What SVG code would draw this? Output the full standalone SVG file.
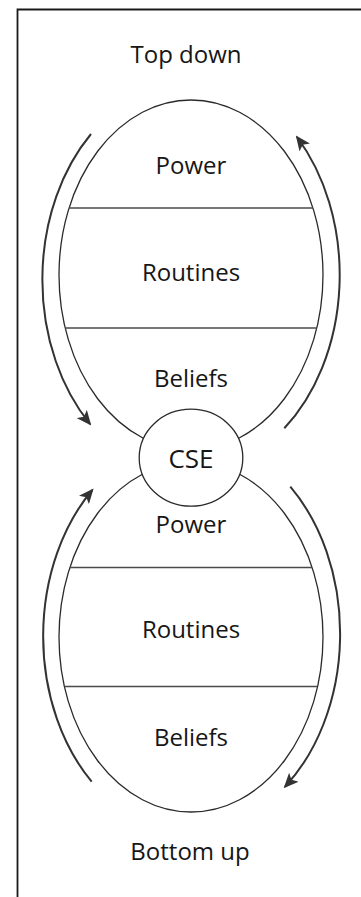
<svg xmlns="http://www.w3.org/2000/svg" width="361" height="897" viewBox="0 0 361 897">
<style>
.lbl{font-family:"Open Sans","Noto Sans","Liberation Sans",sans-serif;font-size:24px;fill:#161616;text-anchor:middle}
.big{font-size:26px}
.shape{fill:none;stroke:#2a2a2a;stroke-width:1.3}
.div{stroke:#4a4a4a;stroke-width:1.3}
.arr{fill:none;stroke:#333;stroke-width:2}
</style>
<defs>
<marker id="ah" viewBox="0 0 15 13" refX="13" refY="6.5" markerWidth="15" markerHeight="13" markerUnits="userSpaceOnUse" orient="auto">
<path d="M0,0 L15,6.5 L0,13 L3.5,6.5 Z" fill="#333"/>
</marker>
</defs>
<rect width="361" height="897" fill="#fff"/>
<g id="frame"><path d="M17.5,897 V9.5 H361" fill="none" stroke="#1a1a1a" stroke-width="1.8"/></g>
<g id="top-down"><text class="lbl" x="186" y="63">Top down</text></g>
<g id="top-ellipse">
<ellipse class="shape" cx="191" cy="275" rx="132" ry="175"/>
<line class="div" x1="69" y1="208" x2="313" y2="208"/>
<line class="div" x1="65" y1="328" x2="317" y2="328"/>
<text class="lbl" x="191" y="174">Power</text>
<text class="lbl" x="191" y="281">Routines</text>
<text class="lbl" x="191" y="387">Beliefs</text>
</g>
<g id="bottom-ellipse">
<ellipse class="shape" cx="191" cy="637" rx="132" ry="175"/>
<line class="div" x1="70" y1="567.5" x2="312" y2="567.5"/>
<line class="div" x1="64.5" y1="686.5" x2="317.5" y2="686.5"/>
<text class="lbl" x="191" y="533">Power</text>
<text class="lbl" x="191" y="638">Routines</text>
<text class="lbl" x="191" y="746">Beliefs</text>
</g>
<g id="cse">
<ellipse cx="191" cy="457.7" rx="51.8" ry="48.5" fill="#fff" stroke="#2a2a2a" stroke-width="1.3"/>
<text class="lbl big" x="191" y="468">CSE</text>
</g>
<g id="bottom-up"><text class="lbl" x="190" y="860">Bottom up</text></g>
<g id="connectors">
<path class="arr" d="M91,134 A149,197 0 0 0 90,424" marker-end="url(#ah)"/>
<path class="arr" d="M284.3,428.3 A149,197 0 0 0 297,137" marker-end="url(#ah)"/>
<path class="arr" d="M91.7,781.7 A149,197 0 0 1 92.3,490" marker-end="url(#ah)"/>
<path class="arr" d="M290.3,486.7 A149,197 0 0 1 285,786.7" marker-end="url(#ah)"/>
</g>
</svg>
